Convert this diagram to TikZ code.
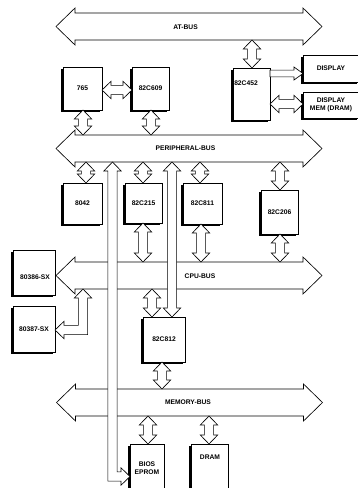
\documentclass[tikz,border=0pt]{standalone}
\usepackage{fontspec}
\setmainfont{Liberation Sans}
\usetikzlibrary{calc,shadows}
\newcommand\lbf{\fontsize{6.7}{8.4}\selectfont\bfseries}
\def\ahh{8.7pt}\def\abh{4.6pt}\def\ahl{9pt}\def\ash{6.5pt}\def\asb{3.4pt}
\def\bext{5pt}\def\blen{19pt}
\newcommand\vdbl[3]{\draw[conn] let \p0=(#1,0), \p1=#2, \p2=#3 in
 (\x0,\y1) -- (\x0+\ahh,\y1-\ahl) -- (\x0+\abh,\y1-\ahl) -- (\x0+\abh,\y2+\ahl) -- (\x0+\ahh,\y2+\ahl) -- (\x0,\y2)
 -- (\x0-\ahh,\y2+\ahl) -- (\x0-\abh,\y2+\ahl) -- (\x0-\abh,\y1-\ahl) -- (\x0-\ahh,\y1-\ahl) -- cycle;}
\newcommand\hdbl[3]{\draw[conn] let \p0=(0,#1), \p1=#2, \p2=#3 in
 (\x1,\y0) -- (\x1+\ahl,\y0+\ahh) -- (\x1+\ahl,\y0+\abh) -- (\x2-\ahl,\y0+\abh) -- (\x2-\ahl,\y0+\ahh) -- (\x2,\y0)
 -- (\x2-\ahl,\y0-\ahh) -- (\x2-\ahl,\y0-\abh) -- (\x1+\ahl,\y0-\abh) -- (\x1+\ahl,\y0-\ahh) -- cycle;}
\newcommand\sarr[3]{\draw[conn] let \p0=(0,#1), \p1=#2, \p2=#3 in
 (\x1,\y0+\asb) -- (\x2-\ahl,\y0+\asb) -- (\x2-\ahl,\y0+\ash) -- (\x2,\y0) -- (\x2-\ahl,\y0-\ash) -- (\x2-\ahl,\y0-\asb) -- (\x1,\y0-\asb) -- cycle;}
\newcommand\busarrow[1]{\draw[conn] let \p1=(#1.north west), \p2=(#1.south east), \p3=(#1.east), \p4=(#1.west) in
 (\x1,\y1) -- (\x2,\y1) -- (\x2,\y1+\bext) -- (\x3+\blen,\y3) -- (\x2,\y2-\bext) -- (\x2,\y2) -- (\x1,\y2) -- (\x1,\y2-\bext) -- (\x4-\blen,\y4) -- (\x1,\y1+\bext) -- cycle;}
\begin{document}
\begin{tikzpicture}[x=1pt,y=-1pt,
  box/.style={draw, fill=white, line width=0.6pt, outer sep=0pt, inner sep=0pt, font=\lbf, align=center,
    drop shadow={shadow xshift=-2.3pt, shadow yshift=-1.8pt, opacity=1, fill=black}},
  bus/.style={minimum width=228pt, minimum height=27pt, inner sep=0pt, outer sep=0pt},
  lbl/.style={font=\lbf, inner sep=0pt, align=center},
  conn/.style={draw, fill=white, line width=0.65pt, line join=miter}]
\useasboundingbox (0,0) rectangle (358,488);
\clip (0,0) rectangle (358,488);
\fill[white] (0,0) rectangle (358,488);
% buses
\node[bus] (atbus) at (189,26.5) {};
\node[bus] (pbus) at (189,148.5) {};
\node[bus] (cpubus) at (189,275.5) {};
\node[bus] (membus) at (189.5,402.5) {};
\busarrow{atbus}
\busarrow{pbus}
\busarrow{cpubus}
\busarrow{membus}
\node[lbl] (atl) at (185.5,27) {AT-BUS};
\node[lbl] (pl) at (185.5,148.5) {PERIPHERAL-BUS};
\node[lbl] (cpul) at (200,276) {CPU-BUS};
\node[lbl] (meml) at (188,402.5) {MEMORY-BUS};
% boxes
\node[box, minimum width=39pt, minimum height=43pt] (c765) at (82.5,88.5) {765};
\node[box, minimum width=37pt, minimum height=43pt] (c609) at (150.5,88.5) {82C609};
\node[box, minimum width=37pt, minimum height=52pt] (c452) at (251.5,94) {};
\node[lbl] (c452l) at (246,83) {82C452};
\node[box, minimum width=56pt, minimum height=27pt] (disp) at (331,68.5) {DISPLAY};
\node[box, minimum width=56pt, minimum height=26pt] (dmem) at (331,105) {DISPLAY\\MEM (DRAM)};
\node[box, minimum width=39pt, minimum height=41pt] (c8042) at (82.5,203.5) {8042};
\node[box, minimum width=37pt, minimum height=40pt] (c215) at (143.5,203) {82C215};
\node[box, minimum width=39pt, minimum height=41pt] (c811) at (202.5,203.5) {82C811};
\node[box, minimum width=37pt, minimum height=44pt] (c206) at (279.5,212) {82C206};
\node[box, minimum width=42pt, minimum height=45pt] (c386) at (34,272.5) {};
\node[lbl] (c386l) at (35,277) {80386-SX};
\node[box, minimum width=42pt, minimum height=46pt] (c387) at (34,329) {80387-SX};
\node[box, minimum width=42pt, minimum height=45pt] (c812) at (164,339.5) {82C812};
\node[box, minimum width=34pt, minimum height=48pt] (bios) at (147,468) {BIOS\\EPROM};
\node[box, minimum width=37pt, minimum height=48pt] (dram) at (209.5,468) {};
\node[lbl] (draml) at (210,457) {DRAM};
% short connectors
\hdbl{90}{(c765.east)}{(c609.west)}
\vdbl{252}{(atbus.south)}{(c452.north)}
\sarr{73.5}{(c452.east)}{(disp.west)}
\hdbl{104}{(c452.east)}{(dmem.west)}
\vdbl{83}{(c765.south)}{(pbus.north)}
\vdbl{151}{(c609.south)}{(pbus.north)}
\vdbl{86}{(pbus.south)}{(c8042.north)}
\vdbl{143}{(pbus.south)}{(c215.north)}
\vdbl{200}{(pbus.south)}{(c811.north)}
\vdbl{280}{(pbus.south)}{(c206.north)}
\vdbl{143}{(c215.south)}{(cpubus.north)}
\vdbl{201}{(c811.south)}{(cpubus.north)}
\vdbl{280}{(c206.south)}{(cpubus.north)}
\vdbl{152}{(cpubus.south)}{(c812.north)}
\vdbl{162}{(c812.south)}{(membus.north)}
\vdbl{148}{(membus.south)}{(bios.north)}
\vdbl{209}{(membus.south)}{(dram.north)}
% long connectors
\vdbl{172}{(pbus.south)}{(c812.north)}
\draw[conn] let \p0=(112.5,476.5), \p1=(pbus.south), \p2=(bios.west) in
 (\x0,\y1) -- (\x0+\ahh,\y1-\ahl) -- (\x0+\abh,\y1-\ahl) -- (\x0+\abh,\y0+\abh) -- (\x2-\ahl,\y0+\abh)
 -- (\x2-\ahl,\y0+\ahh) -- (\x2,\y0) -- (\x2-\ahl,\y0-\ahh) -- (\x2-\ahl,\y0-\abh) -- (\x0-\abh,\y0-\abh)
 -- (\x0-\abh,\y1-\ahl) -- (\x0-\ahh,\y1-\ahl) -- cycle;
\draw[conn] let \p0=(83,330), \p1=(cpubus.south), \p2=(c387.east) in
 (\x0,\y1) -- (\x0+\ahh,\y1-\ahl) -- (\x0+\abh,\y1-\ahl) -- (\x0+\abh,\y0-\abh) -- (\x2+\ahl,\y0-\abh)
 -- (\x2+\ahl,\y0-\ahh) -- (\x2,\y0) -- (\x2+\ahl,\y0+\ahh) -- (\x2+\ahl,\y0+\abh) -- (\x0-\abh,\y0+\abh)
 -- (\x0-\abh,\y1-\ahl) -- (\x0-\ahh,\y1-\ahl) -- cycle;
\end{tikzpicture}
\end{document}
